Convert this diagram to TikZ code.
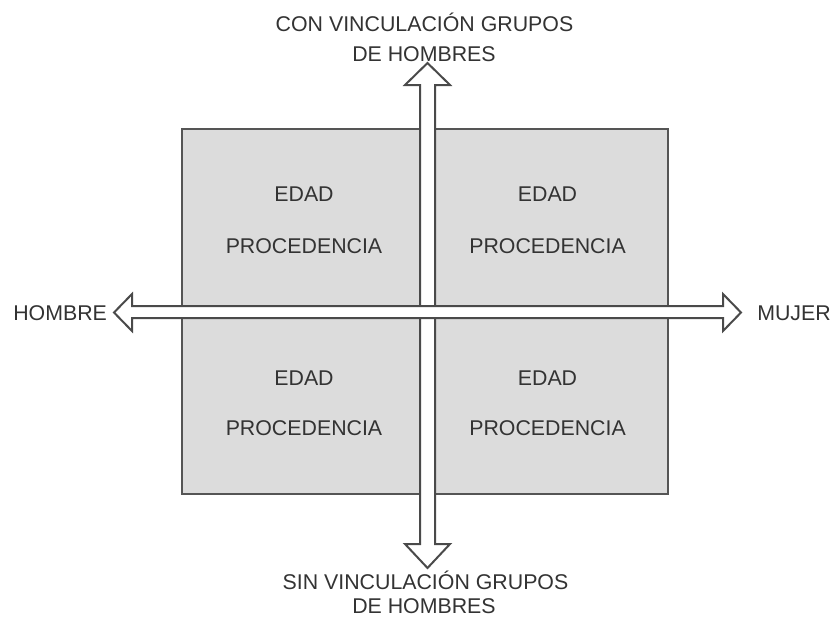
\documentclass[tikz,border=0pt]{standalone}
\usepackage{fontspec}
\setmainfont{Liberation Sans}
\begin{document}
\begin{tikzpicture}[x=0.75pt,y=-0.75pt,
  lbl/.style={anchor=base,inner sep=0pt,text=txtgray,font=\fontsize{16}{19}\selectfont},
  axis/.style={draw=linegray,line width=1.5pt,fill=white,line join=miter},
  panel/.style={draw=boxline,line width=1.5pt,fill=boxfill}]
\definecolor{txtgray}{HTML}{333333}
\definecolor{linegray}{HTML}{4A4A4A}
\definecolor{boxline}{HTML}{555555}
\definecolor{boxfill}{HTML}{DCDCDC}
\useasboundingbox (0,0) rectangle (831,618);
\fill[white] (0,0) rectangle (831,618);
% panel
\coordinate (tl) at (182,129);
\coordinate (br) at (668,494);
\draw[panel] (tl) rectangle (br);
% vertical axis
\draw[axis] (420,85) -- (405,85) -- (427.5,63) -- (450,85) -- (435,85)
  -- (435,544) -- (450,544) -- (427.5,568) -- (405,544) -- (420,544) -- cycle;
% horizontal axis
\draw[axis] (132,306) -- (132,294) -- (114,312.5) -- (132,331) -- (132,318)
  -- (723,318) -- (723,331) -- (741,312.5) -- (723,294) -- (723,306) -- cycle;
% axis labels
\node[lbl] (top1) at (424.5,31) {CON VINCULACIÓN GRUPOS};
\node[lbl] (top2) at (424,61) {DE HOMBRES};
\node[lbl] (bot1) at (425.5,589) {SIN VINCULACIÓN GRUPOS};
\node[lbl] (bot2) at (424,613) {DE HOMBRES};
\node[lbl,anchor=base west] (hombre) at (13,320.5) {HOMBRE};
\node[lbl,anchor=base west] (mujer) at (757,320.5) {MUJER};
% quadrants
\node[lbl] (q1a) at (304,201.5) {EDAD};
\node[lbl] (q1b) at (304,253.5) {PROCEDENCIA};
\node[lbl] (q2a) at (547.5,201.5) {EDAD};
\node[lbl] (q2b) at (547.5,253.5) {PROCEDENCIA};
\node[lbl] (q3a) at (304,385.5) {EDAD};
\node[lbl] (q3b) at (304,435.5) {PROCEDENCIA};
\node[lbl] (q4a) at (547.5,385.5) {EDAD};
\node[lbl] (q4b) at (547.5,435.5) {PROCEDENCIA};
\end{tikzpicture}
\end{document}
